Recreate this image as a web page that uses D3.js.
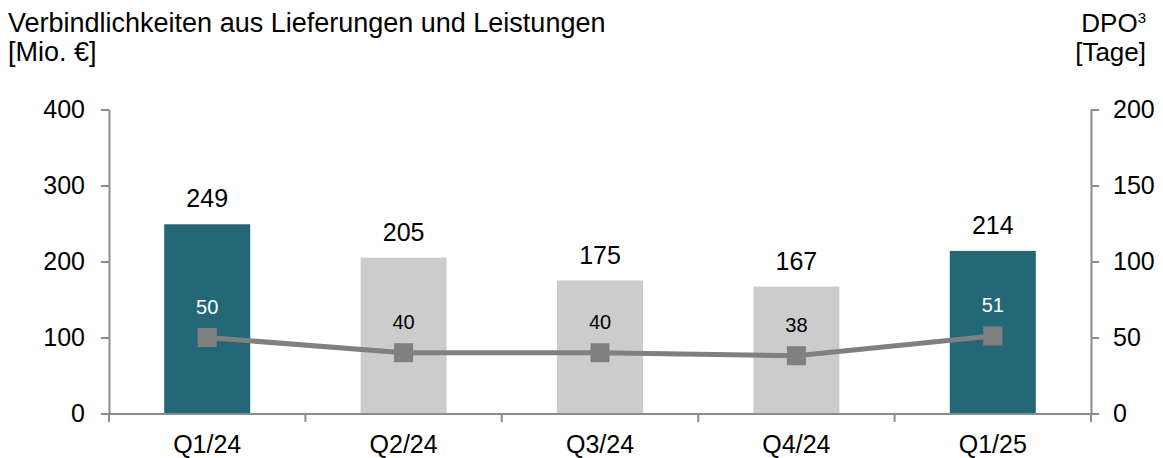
<!DOCTYPE html>
<html>
<head>
<meta charset="utf-8">
<script src="https://cdn.jsdelivr.net/npm/d3@7/dist/d3.min.js"></script>
<style>
  html, body { margin: 0; padding: 0; background: #fff; }
  svg { display: block; font-family: "Liberation Sans", Arial, sans-serif; }
</style>
</head>
<body>
<svg id="chart" width="1163" height="458"></svg>
<script>
const categories = ["Q1/24", "Q2/24", "Q3/24", "Q4/24", "Q1/25"];
const payables = [249, 205, 175, 167, 214];
const dpo = [50, 40, 40, 38, 51];
const highlighted = [true, false, false, false, true];
const leftTicks = [0, 100, 200, 300, 400];
const rightTicks = [0, 50, 100, 150, 200];

const svg = d3.select("#chart");
const axisColor = "#8c8c8c";
const teal = "#246878";
const grey = "#cccccc";
const lineGrey = "#808080";

const x = d3.scaleBand().domain(categories).range([109, 1091]).paddingInner(0.562).paddingOuter(0.281);
const yL = d3.scaleLinear().domain([0, 400]).range([413.5, 109.5]);
const yR = d3.scaleLinear().domain([0, 200]).range([413.5, 109.5]);

// Titles
const title = svg.append("g").attr("fill", "#000");
title.append("text").attr("x", 8).attr("y", 32).attr("font-size", 27).text("Verbindlichkeiten aus Lieferungen und Leistungen");
title.append("text").attr("x", 8).attr("y", 61).attr("font-size", 27).text("[Mio. €]");
const rt = title.append("text").attr("x", 1146).attr("y", 32).attr("font-size", 26).attr("text-anchor", "end");
rt.append("tspan").text("DPO");
rt.append("tspan").attr("font-size", 15).attr("dy", -9).text("3");
title.append("text").attr("x", 1146).attr("y", 61).attr("font-size", 26).attr("text-anchor", "end").text("[Tage]");

// Bars
svg.append("g").selectAll("rect").data(categories).join("rect")
  .attr("x", d => x(d))
  .attr("width", x.bandwidth())
  .attr("y", (d, i) => yL(payables[i]))
  .attr("height", (d, i) => yL(0) - yL(payables[i]))
  .attr("fill", (d, i) => highlighted[i] ? teal : grey);

// Bar value labels
svg.append("g").selectAll("text").data(categories).join("text")
  .attr("x", d => x(d) + x.bandwidth() / 2)
  .attr("y", (d, i) => yL(payables[i]) - 17)
  .attr("text-anchor", "middle")
  .attr("font-size", 25)
  .attr("fill", "#000")
  .text((d, i) => payables[i]);

// Axes
function styleAxis(g) {
  g.select(".domain").attr("stroke", axisColor).attr("stroke-width", 2);
  g.selectAll(".tick line").attr("stroke", axisColor).attr("stroke-width", 2);
  g.selectAll(".tick text").attr("fill", "#000").attr("font-size", 25)
    .attr("font-family", "'Liberation Sans', Arial, sans-serif");
}
svg.append("g").attr("transform", "translate(109,0)")
  .call(d3.axisLeft(yL).tickValues(leftTicks).tickSize(8).tickSizeOuter(0).tickPadding(16))
  .call(styleAxis);
svg.append("g").attr("transform", "translate(1091,0)")
  .call(d3.axisRight(yR).tickValues(rightTicks).tickSize(8).tickSizeOuter(0).tickPadding(14))
  .call(styleAxis);
svg.append("g").attr("transform", "translate(0,413.5)")
  .call(d3.axisBottom(x).tickSize(0).tickPadding(22))
  .call(styleAxis);

// Category separators
const gap = (x.step() - x.bandwidth()) / 2;
const bounds = categories.map(c => x(c) - gap).concat([x(categories[categories.length - 1]) + x.bandwidth() + gap]);
svg.append("g").selectAll("line").data(bounds).join("line")
  .attr("x1", d => d).attr("x2", d => d)
  .attr("y1", 413.5).attr("y2", 422)
  .attr("stroke", axisColor).attr("stroke-width", 2);

// DPO line
const cx = d => x(d) + x.bandwidth() / 2;
const line = d3.line().x(d => cx(d)).y((d, i) => yR(dpo[i]));
svg.append("path").datum(categories)
  .attr("d", line)
  .attr("fill", "none")
  .attr("stroke", lineGrey)
  .attr("stroke-width", 5);
svg.append("g").selectAll("rect").data(categories).join("rect")
  .attr("x", d => cx(d) - 9.5)
  .attr("y", (d, i) => yR(dpo[i]) - 9.5)
  .attr("width", 19).attr("height", 19)
  .attr("fill", lineGrey);
svg.append("g").selectAll("text").data(categories).join("text")
  .attr("x", d => cx(d))
  .attr("y", (d, i) => yR(dpo[i]) - 24)
  .attr("text-anchor", "middle")
  .attr("font-size", 20)
  .attr("fill", (d, i) => highlighted[i] ? "#fff" : "#000")
  .text((d, i) => dpo[i]);
</script>
</body>
</html>
